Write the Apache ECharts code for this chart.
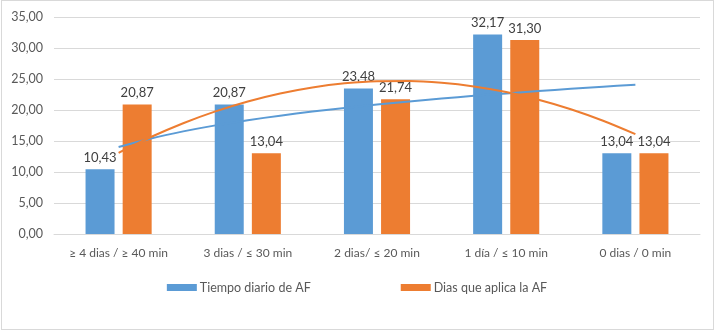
<!DOCTYPE html>
<html>
<head>
<meta charset="utf-8">
<script src="https://cdn.jsdelivr.net/npm/echarts@6/dist/echarts.min.js"></script>
<style>
  html, body { margin: 0; padding: 0; background: #fff; }
  #frame { position: absolute; left: 1px; top: 0px; width: 711px; height: 328px; border: 1px solid #d9d9d9; }
  #chart { position: absolute; left: 0; top: 0; width: 714px; height: 331px; }
</style>
</head>
<body>
<div id="frame"></div>
<div id="chart"></div>
<script>
const categories = ['\u2265 4 dias / \u2265 40 min', '3 dias / \u2264 30 min', '2 dias/ \u2264 20 min', '1 d\u00eda / \u2264 10 min', '0 dias / 0 min'];
const tiempoDiario = [10.43, 20.87, 23.48, 32.17, 13.04];
const diasAplica = [20.87, 13.04, 21.74, 31.30, 13.04];
const seriesNames = ['Tiempo diario de AF', 'Dias que aplica la AF'];
const trendX = [0, 0.25, 0.5, 0.75, 1, 1.25, 1.5, 1.75, 2, 2.25, 2.5, 2.75, 3, 3.25, 3.5, 3.75, 4];
const tiempoTrend = [14.02, 15.41, 16.55, 17.52, 18.35, 19.09, 19.75, 20.34, 20.89, 21.39, 21.85, 22.28, 22.68, 23.06, 23.42, 23.76, 24.08];
const diasTrend = [13.10, 15.64, 17.87, 19.78, 21.38, 22.67, 23.64, 24.30, 24.64, 24.67, 24.39, 23.80, 22.89, 21.66, 20.13, 18.27, 16.11];
const yTicks = { min: 0, max: 35, interval: 5 };

const BLUE = '#5B9BD5';
const ORANGE = '#ED7D31';
const fmt = v => v.toFixed(2).replace('.', ',');
const FONT = 'Lato';
const FS = 13;

const chart = echarts.init(document.getElementById('chart'), null, { renderer: 'canvas' });
chart.setOption({
  animation: false,
  textStyle: { fontFamily: FONT },
  grid: { left: 54, right: 14, top: 17, bottom: 97, containLabel: false },
  legend: {
    data: seriesNames,
    bottom: 32,
    left: 'center',
    itemWidth: 30,
    itemHeight: 7,
    itemGap: 90,
    icon: 'rect',
    textStyle: { color: '#595959', fontSize: 12.5, fontFamily: FONT, padding: [0, 0, 0, -2] }
  },
  xAxis: [
    {
      type: 'category',
      data: categories,
      axisLine: { lineStyle: { color: '#d9d9d9', width: 1 } },
      axisTick: { show: false },
      axisLabel: { color: '#595959', fontSize: 12, fontFamily: FONT, margin: 13, interval: 0 }
    },
    {
      type: 'value',
      min: -0.5, max: 4.5,
      show: false
    }
  ],
  yAxis: {
    type: 'value',
    min: yTicks.min, max: yTicks.max, interval: yTicks.interval,
    axisLine: { show: false },
    axisTick: { show: false },
    splitLine: { lineStyle: { color: '#d9d9d9', width: 1 } },
    axisLabel: { color: '#595959', fontSize: 12.5, fontFamily: FONT, margin: 11, formatter: v => fmt(v) }
  },
  series: [
    {
      name: seriesNames[0], type: 'bar', xAxisIndex: 0,
      data: tiempoDiario, barWidth: 29, barGap: '28%',
      itemStyle: { color: BLUE },
      label: { show: true, position: 'top', distance: 5, color: '#404040', fontSize: FS, fontFamily: FONT, formatter: p => fmt(p.value) }
    },
    {
      name: seriesNames[1], type: 'bar', xAxisIndex: 0,
      data: diasAplica, barWidth: 29,
      itemStyle: { color: ORANGE },
      label: { show: true, position: 'top', distance: 5, color: '#404040', fontSize: FS, fontFamily: FONT, formatter: p => fmt(p.value) }
    },
    {
      name: 'trendTiempo', type: 'line', xAxisIndex: 1, smooth: 0.3, symbol: 'none',
      data: trendX.map((x, i) => [x, tiempoTrend[i]]),
      lineStyle: { color: BLUE, width: 2 }, z: 5
    },
    {
      name: 'trendDias', type: 'line', xAxisIndex: 1, smooth: 0.3, symbol: 'none',
      data: trendX.map((x, i) => [x, diasTrend[i]]),
      lineStyle: { color: ORANGE, width: 2 }, z: 5
    }
  ]
});
</script>
</body>
</html>
